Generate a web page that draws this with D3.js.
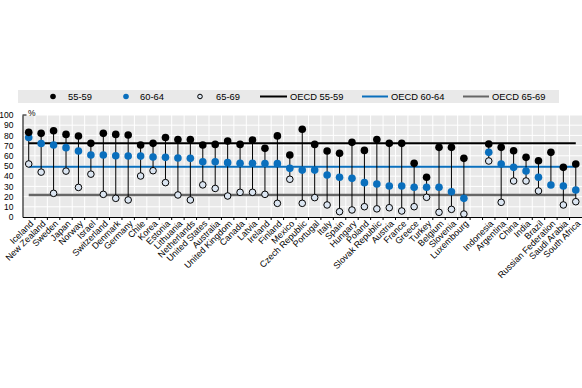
<!DOCTYPE html>
<html><head><meta charset="utf-8">
<script src="https://cdn.jsdelivr.net/npm/d3@7"></script>
<style>body{margin:0;background:#fff}svg{display:block}</style>
</head><body>
<svg id="c" width="582" height="388"></svg>
<script>
const countries = ["Iceland","New Zealand","Sweden","Japan","Norway","Israel","Switzerland","Denmark","Germany","Chile","Korea","Estonia","Lithuania","Netherlands","United States","Australia","United Kingdom","Canada","Latvia","Ireland","Finland","Mexico","Czech Republic","Portugal","Italy","Spain","Hungary","Poland","Slovak Republic","Austria","France","Greece","Turkey","Belgium","Slovenia","Luxembourg"," ","Indonesia","Argentina","China","India","Brazil","Russian Federation","Saudi Arabia","South Africa"];
const v5559 = [83,82,84.6,81,79.4,72.2,82,81,80.4,70.6,72.2,78,76,76,70.6,71.2,74.5,71.2,75.5,67.3,79.5,60.8,86,71.2,64.7,62.4,73.2,65.3,76,72.2,72.2,52.6,38.9,68.3,68.3,57.5,null,71.6,68.3,65,58.5,55.2,63.4,48.7,52];
const v6064 = [78,72,70.6,68,64.7,60.8,60.8,60,59.8,59.7,58.8,58.5,57.8,57.5,54.2,54.2,53.3,52.6,52.6,52.5,52.3,47.7,46,46,41.2,38.9,37.9,33.7,32.4,30.4,30.4,29.1,29.1,29.1,24.8,18.3,null,63.4,52,48.7,45.1,38.9,31.4,30.4,26.5];
const v6569 = [52,44,23.2,45,29,42,22.2,18.3,16.7,40.2,45.4,33.7,21.6,16.7,31.5,28,20.6,24.2,24.2,22.2,13.4,37,13.4,19,11.8,5.2,6.9,10.1,8,9.1,5.9,10.1,19.3,4.6,7.5,2.9,null,54.9,14.4,35.3,35.3,25.5,null,11.8,15];
const oecdAvg = [72.2, 49.3, 21.6];
const seriesNames = ["55-59","60-64","65-69"];
const avgNames = ["OECD 55-59","OECD 60-64","OECD 65-69"];
const yTicks = [0,10,20,30,40,50,60,70,80,90,100];

// font detection
const cv = document.createElement("canvas").getContext("2d");
function w(f){cv.font=f;return cv.measureText("OECD 55-59 Wijk").width;}
const hasNarrow = w("10px 'Liberation Sans Narrow', monospace") !== w("10px monospace");
const FONT = hasNarrow ? "'Liberation Sans Narrow','Arial Narrow',sans-serif" : "'Liberation Sans',Arial,sans-serif";
const k = hasNarrow ? 1 : 0.85;

const BLACK="#000", BLUE="#0a6fbd", GRAY="#666666", OPENF="#dbe5f1", BG="#e9e9e9";
const svg = d3.select("#c");
const L=22.5, R=582, T=115, B=217;
const x = d3.scaleBand().domain(countries).range([L,R]).padding(0);
const y = d3.scaleLinear().domain([0,100]).range([B,T]);
const cx = d => x(d)+x.bandwidth()/2;

// plot background
svg.append("rect").attr("x",L).attr("y",T).attr("width",R-L).attr("height",B-T).attr("fill",BG);
// grid
svg.append("g").selectAll("line").data(yTicks.slice(1)).join("line")
  .attr("x1",L).attr("x2",R).attr("y1",d=>y(d)).attr("y2",d=>y(d)).attr("stroke","#fff").attr("stroke-width",1);
svg.append("g").selectAll("line").data(countries.slice(1)).join("line")
  .attr("x1",d=>x(d)).attr("x2",d=>x(d)).attr("y1",T).attr("y2",B).attr("stroke","#fff").attr("stroke-width",1);

// OECD lines
const avgColors=[BLACK,BLUE,GRAY];
oecdAvg.forEach((v,i)=>{
  svg.append("line").attr("x1",cx(countries[0])).attr("x2",cx(countries[countries.length-1]))
    .attr("y1",y(v)).attr("y2",y(v)).attr("stroke",avgColors[i]).attr("stroke-width",i==2?2.5:2);
});

// axes
const yAxis = svg.append("g").attr("transform",`translate(${L},0)`)
  .call(d3.axisLeft(y).tickValues(yTicks).tickSize(0).tickPadding(9));
yAxis.select(".domain").attr("stroke","#000");
yAxis.selectAll("text").attr("font-family",FONT).attr("font-size",10*k+"px").attr("fill","#000");
svg.append("line").attr("x1",L).attr("x2",L+4).attr("y1",T).attr("y2",T).attr("stroke","#000");
svg.append("text").attr("x",28).attr("y",116).text("%").attr("font-family",FONT).attr("font-size",10*k+"px");

const xAxis = svg.append("g").attr("transform",`translate(0,${B})`)
  .call(d3.axisBottom(x).tickSize(0).tickFormat(""));
xAxis.select(".domain").attr("stroke","#000");
svg.append("g").selectAll("line").data(countries.slice(1)).join("line")
  .attr("x1",d=>x(d)).attr("x2",d=>x(d)).attr("y1",B).attr("y2",B+3).attr("stroke","#000");
svg.append("g").selectAll("text").data(countries).join("text")
  .attr("transform",d=>`translate(${cx(d)+3},${B+5}) rotate(-45)`)
  .attr("text-anchor","end").attr("dy","0.35em")
  .attr("font-family",FONT).attr("font-size",10.5*k+"px").attr("fill","#000").text(d=>d.trim());

// stems
const rows = countries.map((c,i)=>({c,a:v5559[i],b:v6064[i],o:v6569[i]})).filter(r=>r.a!=null);
svg.append("g").selectAll("line").data(rows).join("line")
  .attr("x1",d=>cx(d.c)).attr("x2",d=>cx(d.c))
  .attr("y1",d=>y(d3.max([d.a,d.b,d.o].filter(v=>v!=null))))
  .attr("y2",d=>y(d3.min([d.a,d.b,d.o].filter(v=>v!=null))))
  .attr("stroke","#000").attr("stroke-width",1);
// dots
svg.append("g").selectAll("circle").data(rows.filter(d=>d.o!=null)).join("circle")
  .attr("cx",d=>cx(d.c)).attr("cy",d=>y(d.o)).attr("r",3.3).attr("fill",OPENF).attr("stroke","#000").attr("stroke-width",1);
svg.append("g").selectAll("circle").data(rows).join("circle")
  .attr("cx",d=>cx(d.c)).attr("cy",d=>y(d.b)).attr("r",3.8).attr("fill",BLUE);
svg.append("g").selectAll("circle").data(rows).join("circle")
  .attr("cx",d=>cx(d.c)).attr("cy",d=>y(d.a)).attr("r",3.8).attr("fill",BLACK);

// legend
const lg = svg.append("g");
lg.append("rect").attr("x",18).attr("y",90).attr("width",541).attr("height",13).attr("fill",BG);
const ly = 96.5;
const dotItems = [{x:53,t:68,type:"dot",c:BLACK},{x:126,t:140,type:"dot",c:BLUE},{x:200,t:216,type:"open"}];
dotItems.forEach((it,i)=>{
  if(it.type==="dot") lg.append("circle").attr("cx",it.x).attr("cy",ly).attr("r",2.8).attr("fill",it.c);
  else lg.append("circle").attr("cx",it.x).attr("cy",ly).attr("r",2.3).attr("fill",OPENF).attr("stroke","#000").attr("stroke-width",1);
  lg.append("text").attr("x",it.t).attr("y",ly).attr("dy","0.35em").text(seriesNames[i])
    .attr("font-family",FONT).attr("font-size",11*k+"px");
});
const lineItems=[{x1:260,x2:287,t:290},{x1:362,x2:388,t:391},{x1:463,x2:489,t:492}];
lineItems.forEach((it,i)=>{
  lg.append("line").attr("x1",it.x1).attr("x2",it.x2).attr("y1",ly).attr("y2",ly).attr("stroke",avgColors[i]).attr("stroke-width",2);
  lg.append("text").attr("x",it.t).attr("y",ly).attr("dy","0.35em").text(avgNames[i])
    .attr("font-family",FONT).attr("font-size",11*k+"px");
});
</script>
</body></html>
